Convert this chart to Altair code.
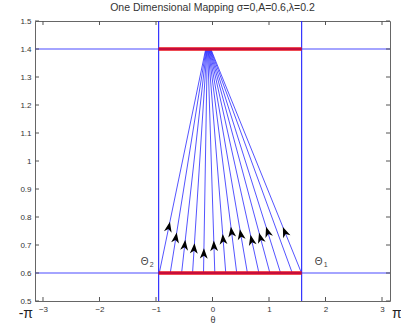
import math
import altair as alt
import pandas as pd

# ---- data ----
title_text = "One Dimensional Mapping σ=0,A=0.6,λ=0.2"
theta2 = -0.953
theta1 = 1.578
y_low = 0.6
y_high = 1.4
# bottom end of each fan line (theta at y=0.6)
bottom_thetas = [-0.942, -0.748, -0.547, -0.353, -0.159, 0.041, 0.235,
                 0.429, 0.618, 0.822, 1.016, 1.205, 1.412, 1.575]
# top end of each fan line (theta at y=1.4)
top_thetas = [-0.12, -0.113, -0.106, -0.099, -0.092, -0.085, -0.078,
              -0.071, -0.064, -0.057, -0.050, -0.043, -0.036, -0.030]
# height of the arrowhead on each line (None = no arrow)
arrow_heights = [0.765, 0.726, 0.700, 0.688, 0.670, 0.697, 0.721,
                 0.747, 0.738, 0.718, 0.726, 0.747, None, 0.747]
x_ticks = [-3, -2, -1, 0, 1, 2, 3]
y_ticks = [0.5, 0.6, 0.7, 0.8, 0.9, 1.0, 1.1, 1.2, 1.3, 1.4, 1.5]

W, H = 355, 280
x_dom = [-math.pi, math.pi]
y_dom = [0.5, 1.5]
FONT = "Liberation Sans"

xs = alt.Scale(domain=x_dom, nice=False, zero=False)
ys = alt.Scale(domain=y_dom, nice=False, zero=False)

fan_rows = []
for i, (b, t) in enumerate(zip(bottom_thetas, top_thetas)):
    fan_rows.append({"line": i, "order": 0, "theta": b, "y": y_low})
    fan_rows.append({"line": i, "order": 1, "theta": t, "y": y_high})
fan_df = pd.DataFrame(fan_rows)

sx = W / (x_dom[1] - x_dom[0])
sy = H / (y_dom[1] - y_dom[0])
arrow_rows = []
for b, t, h in zip(bottom_thetas, top_thetas, arrow_heights):
    if h is None:
        continue
    f = (h - y_low) / (y_high - y_low)
    ang = math.degrees(math.atan2((t - b) * sx, (y_high - y_low) * sy)) % 360
    arrow_rows.append({"theta": b + f * (t - b), "y": h, "angle": ang})
arrow_df = pd.DataFrame(arrow_rows)

x_axis = alt.Axis(values=x_ticks, tickSize=0, domain=False, grid=False,
                  format="d", labelOverlap=False, labelFlush=False,
                  labelFont=FONT, labelFontSize=8, labelColor="#333",
                  labelPadding=4, title="θ", titleFont=FONT, titleFontSize=9,
                  titleFontWeight="normal", titleColor="#333", titlePadding=2)
y_axis = alt.Axis(values=y_ticks, tickSize=0, domain=False, grid=False,
                  labelOverlap=False, labelFlush=False,
                  labelFont=FONT, labelFontSize=8, labelColor="#333",
                  labelPadding=4, title=None,
                  labelExpr="abs(datum.value - 1) < 0.001 ? '1' : format(datum.value, '.1f')")

base_h = pd.DataFrame({"y": [y_low, y_high]})
hlines = alt.Chart(base_h).mark_rule(color="#4a4aff", strokeWidth=1.1).encode(
    y=alt.Y("y:Q", scale=ys, axis=y_axis))

vlines = alt.Chart(pd.DataFrame({"theta": [theta2, theta1]})).mark_rule(
    color="#2020ff", strokeWidth=1.1).encode(
    x=alt.X("theta:Q", scale=xs, axis=x_axis))

fan = alt.Chart(fan_df).mark_line(color="#2a2aff", strokeWidth=0.95, opacity=0.85).encode(
    x=alt.X("theta:Q", scale=xs, axis=x_axis), y=alt.Y("y:Q", scale=ys, axis=y_axis),
    detail="line:N", order="order:Q")

red_df = pd.DataFrame({"a": [theta2, theta2], "b": [theta1, theta1], "y": [y_low, y_high]})
red = alt.Chart(red_df).mark_rule(color="#e8101a", strokeWidth=3.4).encode(
    x=alt.X("a:Q", scale=xs, axis=x_axis), x2="b:Q", y=alt.Y("y:Q", scale=ys, axis=y_axis))
red_core = alt.Chart(red_df).mark_rule(color="#6000a0", strokeWidth=1, opacity=0.5).encode(
    x=alt.X("a:Q", scale=xs, axis=x_axis), x2="b:Q", y=alt.Y("y:Q", scale=ys, axis=y_axis))

arrows = alt.Chart(arrow_df).mark_point(
    shape="M0,-1L0.75,1L0,0.45L-0.75,1Z", filled=True, color="black",
    opacity=1, size=110).encode(
    x=alt.X("theta:Q", scale=xs, axis=x_axis), y=alt.Y("y:Q", scale=ys, axis=y_axis),
    angle=alt.Angle("angle:Q", scale=None))

# inward ticks (MATLAB style)
xt_df = pd.DataFrame({"t": x_ticks})
yt_df = pd.DataFrame({"t": y_ticks})
tick_col = "#555"
xt_b = alt.Chart(xt_df).mark_rule(color=tick_col).encode(
    x=alt.X("t:Q", scale=xs, axis=x_axis), y=alt.value(H), y2=alt.value(H - 4))
xt_t = alt.Chart(xt_df).mark_rule(color=tick_col).encode(
    x=alt.X("t:Q", scale=xs, axis=x_axis), y=alt.value(0), y2=alt.value(4))
yt_l = alt.Chart(yt_df).mark_rule(color=tick_col).encode(
    y=alt.Y("t:Q", scale=ys, axis=y_axis), x=alt.value(0), x2=alt.value(4))
yt_r = alt.Chart(yt_df).mark_rule(color=tick_col).encode(
    y=alt.Y("t:Q", scale=ys, axis=y_axis), x=alt.value(W - 4), x2=alt.value(W))

# annotations
th_df = pd.DataFrame({"theta": [theta2, theta1], "y": [0.64, 0.64],
                      "txt": ["Θ", "Θ"], "sub": ["2", "1"]})


def txt_layer(df, field, size, dx, dy=0, align="center", color="#444"):
    return alt.Chart(df).mark_text(
        font=FONT, fontSize=size, color=color, dx=dx, dy=dy, align=align,
        clip=False).encode(
        x=alt.X("theta:Q", scale=xs, axis=x_axis),
        y=alt.Y("y:Q", scale=ys, axis=y_axis), text=f"{field}:N")


theta_lbl_a = txt_layer(th_df.iloc[[0]], "txt", 10, -14)
theta_sub_a = txt_layer(th_df.iloc[[0]], "sub", 7, -7, 3)
theta_lbl_b = txt_layer(th_df.iloc[[1]], "txt", 10, 17)
theta_sub_b = txt_layer(th_df.iloc[[1]], "sub", 7, 24, 3)

pi_df = pd.DataFrame({"theta": [-math.pi], "y": [0.455], "txt": ["-π"]})
pi_df2 = pd.DataFrame({"theta": [math.pi], "y": [0.455], "txt": ["π"]})
pi_l = txt_layer(pi_df, "txt", 14, -2, 0, "right", "#222")
pi_r = txt_layer(pi_df2, "txt", 14, 2, 0, "left", "#222")

chart = alt.layer(
    hlines, vlines, fan, red, red_core, arrows,
    xt_b, xt_t, yt_l, yt_r,
    theta_lbl_a, theta_sub_a, theta_lbl_b, theta_sub_b, pi_l, pi_r,
).properties(
    width=W, height=H,
    title=alt.TitleParams(title_text, font=FONT, fontSize=10.5, fontWeight="normal",
                          color="#333", anchor="middle", offset=4),
    autosize=alt.AutoSizeParams(type="none"),
    padding={"left": 35, "top": 21, "right": 11, "bottom": 27},
).configure_view(stroke="#666", strokeWidth=1
).configure_axis(labelOverlap=False, labelFlush=False)

chart.save("out.html", embed_options={"renderer": "svg", "actions": False})
